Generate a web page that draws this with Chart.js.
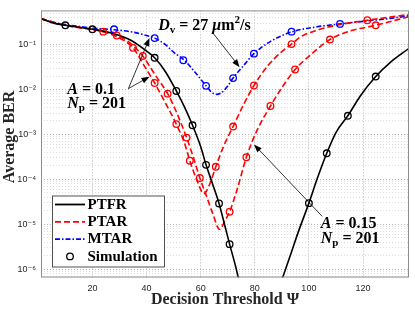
<!DOCTYPE html>
<html>
<head>
<meta charset="utf-8">
<script src="https://cdn.jsdelivr.net/npm/chart.js@4.4.1/dist/chart.umd.min.js"></script>
<style>
  html, body { margin: 0; padding: 0; background: #fff; }
  #wrap { width: 415px; height: 312px; }
</style>
</head>
<body>
<div id="wrap"><canvas id="berChart"></canvas></div>
<script>
// Analytical curves (threshold -> average BER)
const ptfrX = [1, 5, 10, 15, 20, 25, 30, 35, 40, 43, 47, 51, 54, 57, 60, 62, 64.5, 66.8, 69, 70.7, 73, 75,
               82,
               89, 90.3, 93, 96, 100, 103, 106.6, 110, 114.4, 119, 124.7, 130, 137];
const ptfrY = [0.38, 0.31, 0.27, 0.245, 0.22, 0.195, 0.16, 0.118, 0.072, 0.051, 0.025, 0.0093, 0.0041, 0.0016, 5.4e-4, 2.1e-4, 7.6e-5, 2.9e-5, 9e-6, 3.6e-6, 1.1e-6, 3.3e-7,
               null,
               3.9e-7, 6.5e-7, 1.9e-6, 6.5e-6, 2.95e-5, 1.0e-4, 3.8e-4, 1.1e-3, 2.6e-3, 7.2e-3, 0.0195, 0.04, 0.083];

// PTAR, A = 0.1
const ptarAX = [1, 10, 20, 24, 30, 35, 39, 43, 47, 51, 54, 56, 58.5, 61.2, 63, 65.6, 68.5, 72, 76, 79.7, 85, 90, 93.6, 97, 103, 110, 121.6, 130, 137];
const ptarAY = [0.38, 0.27, 0.215, 0.195, 0.14, 0.085, 0.035, 0.014, 0.005, 0.0017, 6.5e-4, 2.6e-4, 1.0e-4, 4.8e-5, 7e-5, 1.9e-4, 5.5e-4, 1.5e-3, 4.8e-3, 0.0123, 0.035, 0.07, 0.103, 0.15, 0.21, 0.27, 0.35, 0.41, 0.47];

// PTAR, A = 0.15
const ptarBX = [1, 10, 20, 29, 33, 38.6, 43, 47.8, 51, 54.8, 57, 59.7, 62, 64.5, 67, 69, 70.7, 73.5, 76.9, 81, 85.8, 90, 94.9, 100, 107.8, 115, 124.7, 137];
const ptarBY = [0.38, 0.27, 0.22, 0.16, 0.12, 0.056, 0.022, 0.0081, 0.0032, 8.5e-4, 3.5e-4, 1.07e-4, 4.5e-5, 1.7e-5, 7.7e-6, 1.2e-5, 1.9e-5, 6e-5, 3.1e-4, 1.3e-3, 0.0043, 0.011, 0.028, 0.055, 0.13, 0.2, 0.27, 0.42];

// MTAR
const mtarX = [1, 5, 10, 15, 20, 28, 35, 40, 43, 47, 50, 54, 58, 62, 64, 66, 68, 70, 72, 76, 79.7, 86, 94, 103, 111.5, 120, 130, 137];
const mtarY = [0.38, 0.32, 0.28, 0.255, 0.235, 0.215, 0.19, 0.16, 0.14, 0.1, 0.068, 0.045, 0.024, 0.0121, 0.0088, 0.0078, 0.0088, 0.012, 0.018, 0.035, 0.063, 0.12, 0.195, 0.25, 0.29, 0.33, 0.385, 0.44];

// Simulation markers
const simPtfrX = [10, 20, 43, 51, 57, 62, 66.8, 70.7, 100, 106.6, 114.4, 124.7];
const simPtfrY = [0.27, 0.22, 0.051, 0.0093, 0.0016, 2.1e-4, 2.9e-5, 3.6e-6, 2.95e-5, 3.8e-4, 2.6e-3, 0.0195];
const simPtarAX = [24, 35, 43, 51, 56, 65.6, 72, 79.7, 93.6, 121.6];
const simPtarAY = [0.195, 0.085, 0.014, 0.0017, 2.6e-4, 1.9e-4, 1.5e-3, 0.0123, 0.103, 0.35];
const simPtarBX = [29, 38.6, 47.8, 54.8, 59.7, 70.7, 76.9, 85.8, 94.9, 107.8, 124.7];
const simPtarBY = [0.16, 0.056, 0.0081, 8.5e-4, 1.07e-4, 1.9e-5, 3.1e-4, 0.0043, 0.028, 0.13, 0.27];
const simMtarX = [28, 43, 53.6, 62, 72, 79.7, 93.6, 111.5];
const simMtarY = [0.22, 0.14, 0.045, 0.0121, 0.018, 0.063, 0.195, 0.29];

// Axis ticks
const xTicks = [20, 40, 60, 80, 100, 120];
const yDecades = [-7, -6, -5, -4, -3, -2, -1, 0];
const xRange = [1, 137];
const yRange = [6.5e-7, 0.58];

const SERIF = '"Liberation Serif", "DejaVu Serif", serif';
const SANS = '"Liberation Sans", "DejaVu Sans", sans-serif';
const SUP = { '-': '\u207B', '0': '\u2070', '1': '\u00B9', '2': '\u00B2', '3': '\u00B3', '4': '\u2074', '5': '\u2075', '6': '\u2076', '7': '\u2077' };

function pts(xs, ys) {
    return xs.map((x, i) => ({ x: x, y: ys[i] }));
}

function lineSet(label, xs, ys, color, dash) {
    return {
        label: label, data: pts(xs, ys), borderColor: color, borderWidth: 1.6,
        borderDash: dash, pointRadius: 0, fill: false, spanGaps: false,
        cubicInterpolationMode: 'monotone', order: 2
    };
}

function simSet(xs, ys, color) {
    return {
        label: 'Simulation', data: pts(xs, ys), showLine: false,
        pointRadius: 3.3, pointStyle: 'circle', pointBorderWidth: 1.3,
        pointBackgroundColor: 'rgba(0,0,0,0)', pointBorderColor: color, order: 1
    };
}

// annotation anchors in data coordinates
const notes = {
    dv: { x: 44.3, y: 0.213 },
    dvArrow: [{ x: 64.5, y: 0.183 }, { x: 74.4, y: 0.0315 }],
    a1: { x: 10.7, y: 0.0081 },
    n1: { x: 10.7, y: 0.0038 },
    a1Arrows: [[{ x: 33.3, y: 0.0105 }, { x: 41.1, y: 0.14 }], [{ x: 33.3, y: 0.0105 }, { x: 41.1, y: 0.0193 }]],
    a2: { x: 104.4, y: 8.4e-6 },
    n2: { x: 104.4, y: 3.9e-6 },
    a2Arrow: [{ x: 104.9, y: 1.5e-5 }, { x: 79.7, y: 6.0e-4 }]
};

function richText(ctx, x, y, runs) {
    ctx.textAlign = 'left';
    ctx.textBaseline = 'alphabetic';
    runs.forEach(r => {
        ctx.font = r[1];
        ctx.fillText(r[0], x, y + (r[2] || 0));
        x += ctx.measureText(r[0]).width;
    });
}

function arrow(ctx, x1, y1, x2, y2) {
    const ang = Math.atan2(y2 - y1, x2 - x1);
    const len = 8, half = 3;
    ctx.beginPath();
    ctx.moveTo(x1, y1);
    ctx.lineTo(x2 - Math.cos(ang) * len * 0.8, y2 - Math.sin(ang) * len * 0.8);
    ctx.stroke();
    ctx.beginPath();
    ctx.moveTo(x2, y2);
    ctx.lineTo(x2 - Math.cos(ang) * len - Math.sin(ang) * half, y2 - Math.sin(ang) * len + Math.cos(ang) * half);
    ctx.lineTo(x2 - Math.cos(ang) * len + Math.sin(ang) * half, y2 - Math.sin(ang) * len - Math.cos(ang) * half);
    ctx.closePath();
    ctx.fill();
}

const decor = {
    id: 'decor',
    afterDatasetsDraw(chart) {
        const ctx = chart.ctx;
        const area = chart.chartArea;
        const xs = chart.scales.x, ys = chart.scales.y;
        const P = p => [xs.getPixelForValue(p.x), ys.getPixelForValue(p.y)];
        ctx.save();

        // axes box
        ctx.strokeStyle = '#8c8c8c';
        ctx.lineWidth = 1;
        ctx.strokeRect(area.left + 0.5, area.top + 0.5, area.right - area.left - 1, area.bottom - area.top - 1);

        // y label (sits a little above the axis centre, as in the figure)
        ctx.save();
        ctx.translate(10, (area.top + area.bottom) / 2 - 7);
        ctx.rotate(-Math.PI / 2);
        ctx.fillStyle = '#262626';
        ctx.font = `bold 16px ${SERIF}`;
        ctx.textAlign = 'center';
        ctx.textBaseline = 'middle';
        ctx.fillText('Average BER', 0, 0);
        ctx.restore();

        // annotations
        ctx.fillStyle = '#000';
        ctx.strokeStyle = '#000';
        ctx.lineWidth = 0.8;
        const B = `bold 16px ${SERIF}`, BI = `italic bold 16px ${SERIF}`, S = `bold 11px ${SERIF}`;
        let p = P(notes.dv);
        richText(ctx, p[0], p[1], [['D', BI], ['v', S, 3], [' = 27 ', B], ['\u03BC', BI], ['m', B], ['2', S, -7], ['/s', B]]);
        p = P(notes.a1);
        richText(ctx, p[0], p[1], [['A', BI], [' = 0.1', B]]);
        p = P(notes.n1);
        richText(ctx, p[0], p[1], [['N', BI], ['p', S, 3], [' = 201', B]]);
        p = P(notes.a2);
        richText(ctx, p[0], p[1], [['A', BI], [' = 0.15', B]]);
        p = P(notes.n2);
        richText(ctx, p[0], p[1], [['N', BI], ['p', S, 3], [' = 201', B]]);

        const arrows = [notes.dvArrow, notes.a1Arrows[0], notes.a1Arrows[1], notes.a2Arrow];
        arrows.forEach(a => {
            const s = P(a[0]), e = P(a[1]);
            arrow(ctx, s[0], s[1], e[0], e[1]);
        });

        // legend box
        const lx = area.left + 11, ly = area.bottom - 82, lw = 112, lh = 71;
        ctx.fillStyle = '#fff';
        ctx.fillRect(lx, ly, lw, lh);
        ctx.strokeStyle = '#262626';
        ctx.lineWidth = 0.8;
        ctx.strokeRect(lx + 0.5, ly + 0.5, lw, lh);
        const rows = [
            { text: 'PTFR', color: '#000', dash: [] },
            { text: 'PTAR', color: '#ff0000', dash: [6, 3] },
            { text: 'MTAR', color: '#0000ff', dash: [5, 2, 1.5, 2] },
            { text: 'Simulation', color: '#000', marker: true }
        ];
        rows.forEach((r, i) => {
            const cy = ly + 9 + i * 17.3;
            if (r.marker) {
                ctx.strokeStyle = r.color;
                ctx.lineWidth = 1.3;
                ctx.setLineDash([]);
                ctx.beginPath();
                ctx.arc(lx + 18, cy, 3.3, 0, Math.PI * 2);
                ctx.stroke();
            } else {
                ctx.strokeStyle = r.color;
                ctx.lineWidth = 1.8;
                ctx.setLineDash(r.dash);
                ctx.beginPath();
                ctx.moveTo(lx + 3, cy);
                ctx.lineTo(lx + 33, cy);
                ctx.stroke();
                ctx.setLineDash([]);
            }
            ctx.fillStyle = '#000';
            ctx.font = `bold 15px ${SERIF}`;
            ctx.textBaseline = 'middle';
            ctx.fillText(r.text, lx + 35.5, cy + 0.5);
        });
        ctx.restore();
    }
};

document.addEventListener('DOMContentLoaded', function() {
    new Chart(document.getElementById('berChart').getContext('2d'), {
        type: 'line',
        data: {
            datasets: [
                simSet(simPtfrX, simPtfrY, '#000'),
                simSet(simPtarAX, simPtarAY, '#ff0000'),
                simSet(simPtarBX, simPtarBY, '#ff0000'),
                simSet(simMtarX, simMtarY, '#0000ff'),
                lineSet('PTFR', ptfrX, ptfrY, '#000', []),
                lineSet('PTAR', ptarAX, ptarAY, '#ff0000', [6, 3]),
                lineSet('PTAR', ptarBX, ptarBY, '#ff0000', [6, 3]),
                lineSet('MTAR', mtarX, mtarY, '#0000ff', [5, 2, 1.5, 2])
            ]
        },
        options: {
            responsive: true, maintainAspectRatio: false, animation: false, devicePixelRatio: 1,
            layout: { padding: { top: 5, right: 6, left: 0, bottom: 0 } },
            plugins: { legend: { display: false }, tooltip: { enabled: false } },
            scales: {
                x: {
                    type: 'linear', min: xRange[0], max: xRange[1],
                    afterFit: s => { s.height = 34.5; },
                    afterBuildTicks: s => { s.ticks = xTicks.map(v => ({ value: v })); },
                    grid: { color: '#b4b4b4', drawTicks: false },
                    border: { display: false, dash: [1, 2] },
                    ticks: { color: '#262626', font: { family: SANS, size: 9 }, padding: 6, maxRotation: 0, autoSkip: false },
                    title: { display: true, text: 'Decision Threshold \u03A8', color: '#262626',
                             font: { family: SERIF, size: 16, weight: 'bold' }, padding: { top: 0, bottom: 3 } }
                },
                y: {
                    type: 'logarithmic', min: yRange[0], max: yRange[1],
                    afterFit: s => { s.width = 41; },
                    afterBuildTicks: s => {
                        const t = [];
                        yDecades.forEach(e => {
                            for (let m = 1; m <= 9; m++) {
                                const v = m * Math.pow(10, e);
                                if (v > yRange[0] && v < yRange[1]) t.push({ value: v, major: m === 1 });
                            }
                        });
                        s.ticks = t;
                    },
                    grid: {
                        drawTicks: false,
                        color: c => (c.tick && c.tick.major) ? '#b4b4b4' : '#dedede'
                    },
                    border: { display: false, dash: [1, 2] },
                    ticks: {
                        color: '#262626', font: { family: SANS, size: 9 }, padding: 5, autoSkip: false,
                        callback: function(v) {
                            const e = Math.log10(v);
                            if (Math.abs(e - Math.round(e)) > 1e-6) return '';
                            return '10' + String(Math.round(e)).split('').map(ch => SUP[ch]).join('');
                        }
                    },
                    title: { display: false }
                }
            }
        },
        plugins: [decor]
    });
});
</script>
</body>
</html>
